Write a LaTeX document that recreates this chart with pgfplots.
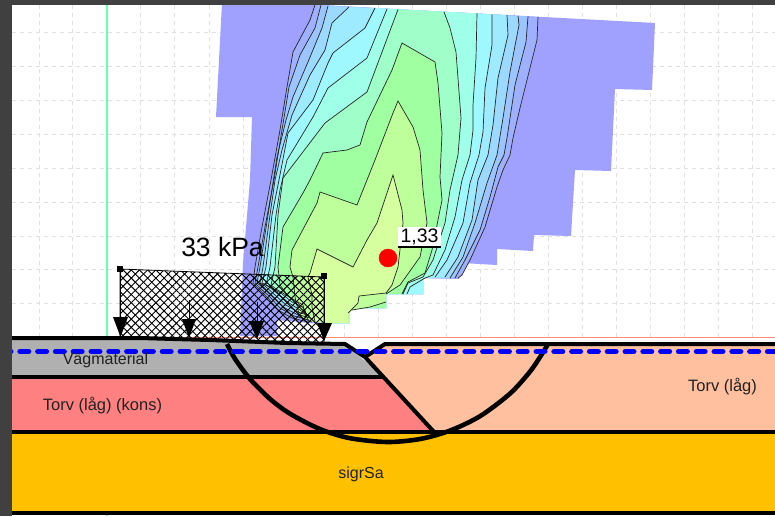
\documentclass[border=0pt]{standalone}
\usepackage{fontspec}
\setmainfont{Liberation Sans}
\usepackage{pgfplots}
\pgfplotsset{compat=1.18}
\usetikzlibrary{patterns.meta}
\definecolor{c0}{HTML}{A0A0FF}
\definecolor{c1}{HTML}{9EB0FF}
\definecolor{c2}{HTML}{9CC4FF}
\definecolor{c3}{HTML}{9CD8FF}
\definecolor{c4}{HTML}{9EEAFF}
\definecolor{c5}{HTML}{A0F8FF}
\definecolor{c6}{HTML}{A0FFE8}
\definecolor{c7}{HTML}{A0FFC8}
\definecolor{c8}{HTML}{A0FFA0}
\definecolor{c9}{HTML}{BEFF9C}
\definecolor{c10}{HTML}{D6FFA0}
\definecolor{griscol}{HTML}{E0E0E0}
\definecolor{barcol}{HTML}{404040}
\definecolor{layergray}{HTML}{B0B0B0}
\definecolor{layerpink}{HTML}{FF8080}
\definecolor{layersal}{HTML}{FFC0A0}
\definecolor{layeryel}{HTML}{FFC000}
\definecolor{redline}{HTML}{FF8878}
\definecolor{teal1}{HTML}{66FFB3}
\definecolor{txt}{HTML}{222222}
% contour polylines, left side (bottom to top) and right side (top to bottom)
\def\LLg{(308,322) (292,318) (278,310) (268,298) (257,287) (253,283) (255,267) (262,227) (271,180) (280,130) (287,87) (293,52) (310,20) (315,5)}
\def\RRg{(538,17) (537,40) (520,108) (513,138) (510,155) (503,170) (497,187) (485,227) (470,260) (462,275) (458,278)}
\def\LLf{(309,320) (294,316) (280,308) (270,297) (259,287) (255,283) (258,267) (265,227) (274,180) (282,130) (289,87) (300,55) (315,28) (321,5)}
\def\RRf{(528,16.5) (526,42) (515,85) (507,138) (504,155) (498,167) (490,197) (480,230) (465,260) (455,278)}
\def\LLe{(310,318) (296,314) (283,307) (272,296) (262,287) (257,283) (260,267) (268,215) (277,157) (286,120) (293,97) (308,62) (322,28) (328,6)}
\def\RRe{(518,16) (519,25) (510,72) (503,118) (497,155) (487,183) (475,223) (463,257) (450,278)}
\def\LLd{(310,316) (298,312) (286,305) (275,295) (265,286) (260,283) (263,267) (270,215) (275,180) (282,150) (292,115) (310,75) (325,50) (332,23) (349,7)}
\def\RRd{(507,15) (508,35) (498,78) (493,125) (488,155) (478,180) (472,220) (458,257) (445,277)}
\def\LLc{(307,315) (300,310) (289,303) (278,294) (268,286) (262,283) (266,267) (272,215) (279,180) (288,133) (313,100) (328,63) (333,53) (365,28) (375,8)}
\def\RRc{(492,14.5) (492,45) (485,88) (483,132) (479,155) (470,183) (463,223) (447,260) (435,277)}
\def\LLb{(306,317) (303,307) (292,302) (282,294) (272,288) (266,285) (270,267) (276,215) (280,190) (287,160) (313,117) (328,88) (367,58) (387,9)}
\def\RRb{(477,13.5) (476,58) (473,105) (473,130) (470,155) (462,180) (455,217) (445,250) (433,275) (425,278) (410,287) (407,294)}
\def\LLa{(306,318) (303,305) (296,301) (286,295) (276,289) (271,285) (275,267) (278,215) (283,178) (325,123) (367,92) (398,9.5)}
\def\RRa{(444,12) (450,28) (456,52) (461,118) (458,155) (450,190) (445,223) (433,260) (423,277) (408,283) (403,294)}
\def\DDd{(308,320) (305,310) (298,303) (288,296) (280,285) (278,267) (283,227) (303,193) (310,180) (323,153) (347,150) (360,145) (367,122) (392,70) (402,43) (435,62) (438,83) (442,133) (440,177) (442,200) (432,250) (425,273) (408,282) (402,294)}
\def\EEe{(312,322) (300,317) (298,310) (295,297) (293,277) (290,267) (292,250) (317,203) (320,192) (357,205) (375,160) (393,113) (398,101) (413,127) (420,150) (423,190) (427,223) (420,257) (400,285) (386,294)}
\def\FFf{(315,322) (312,307) (312,295) (308,277) (310,273) (317,249) (353,267) (367,240) (377,223) (393,175) (402,210) (403,223) (398,267) (392,285) (386,293) (359,296) (358,303) (348,313)}
\def\tailA{(423,278) (423,294) (386,294) (386,308) (349,308) (349,323) (333,323)}
\def\tailB{(386,294) (386,308) (349,308) (349,323) (333,323)}
\newcommand{\band}[2]{\edef\temp{\noexpand\addplot[fill=#1,draw=none] coordinates {#2} -- cycle;}\temp}
\newcommand{\contourline}[1]{\edef\temp{\noexpand\addplot[draw=black!85,line width=0.7pt] coordinates {#1};}\temp}
\newcommand{\arrowdown}[6]{%
 \addplot[fill=black,draw=none] coordinates {(#1,#2) (#3,#2) (#4,#5)} -- cycle;
 \addplot[black,line width=0.8pt] coordinates {(#4,#6) (#4,#2)};}
\begin{document}
\begin{tikzpicture}
\begin{axis}[name=ax,scale only axis,width=775pt,height=516pt,xmin=0,xmax=775,ymin=0,ymax=516,y dir=reverse,axis lines=none,clip=true]
% dashed grid
\pgfplotsforeachungrouped \x in {39,72.5,140.5,174.5,209,243,276,310,344,378,412,446,480,514,548,582,616,650.5,684,718,752}{
 \edef\temp{\noexpand\addplot[griscol,line width=1pt,dash pattern=on 4pt off 4pt] coordinates {(\x,5) (\x,338)};}\temp}
\pgfplotsforeachungrouped \y in {33,66.5,100.5,134,168,202,236,269,303}{
 \edef\temp{\noexpand\addplot[griscol,line width=1pt,dash pattern=on 4pt off 4pt] coordinates {(12,\y) (775,\y)};}\temp}
\addplot[teal1,line width=1.6pt] coordinates {(107,5) (107,516)};
\addplot[redline,line width=0.9pt] coordinates {(12,337) (775,337)};
% outer zone
\addplot[fill=c0,draw=none] coordinates {(222,3) (320,5) (655,23) (652,90) (615,89) (611,171) (575,170) (571,236) (534,235) (533,251) (497,249) (497,265) (462,263) (459,279) (423,278) (423,294) (386,294) (386,308) (349,308) (349,323) (333,323) (310,323) (277,320) (277,336) (240,336) (243,263) (250,180) (252,117) (216,117)} -- cycle;
% bands
\band{c1}{\LLg \RRg \tailA}
\band{c2}{\LLf \RRf \tailA}
\band{c3}{\LLe \RRe \tailA}
\band{c4}{\LLd \RRd \tailA}
\band{c5}{\LLc \RRc \tailA}
\band{c6}{\LLb \RRb \tailB}
\band{c7}{\LLa \RRa \tailB}
\band{c8}{\DDd \tailB}
\band{c9}{\EEe (386,302) (370,307) (352,310) (349,314) (349,323) (333,323)}
\band{c10}{\FFf (348,323)}
% contour lines (left and right arm separately: no line along the top edge)
\contourline{\LLg}\contourline{\RRg}
\contourline{\LLf}\contourline{\RRf}
\contourline{\LLe}\contourline{\RRe}
\contourline{\LLd}\contourline{\RRd}
\contourline{\LLc}\contourline{\RRc}
\contourline{\LLb}\contourline{\RRb}
\contourline{\LLa}\contourline{\RRa}
\contourline{\DDd}
\contourline{\EEe}
\contourline{\FFf}
\addplot[black!85,line width=0.7pt] coordinates {(386,302) (370,307) (352,310)};
% load block, cross hatched
\addplot[pattern={Lines[angle=45,distance=5.8pt,line width=0.95pt]},draw=none] coordinates {(120,269) (324,277) (324,342) (120,342)} -- cycle;
\addplot[pattern={Lines[angle=-45,distance=5.8pt,line width=0.95pt]},draw=none] coordinates {(120,269) (324,277) (324,342) (120,342)} -- cycle;
\addplot[black,line width=0.8pt] coordinates {(120,342) (120,269) (324,277) (324,342)};
% soil layers
\addplot[fill=layeryel,draw=none] coordinates {(12,432) (775,432) (775,513) (12,513)} -- cycle;
\addplot[fill=layerpink,draw=none] coordinates {(12,377) (384,377) (435,432) (12,432)} -- cycle;
\addplot[fill=layergray,draw=none] coordinates {(12,338) (73,338) (140,338) (173,339) (210,340) (287,343) (345,344) (384,377) (12,377)} -- cycle;
\addplot[fill=layersal,draw=none] coordinates {(365,357) (385,344) (775,344) (775,432) (435,432)} -- cycle;
\addplot[fill=white,draw=none] coordinates {(345,344) (385,344) (365,357)} -- cycle;
% layer boundaries
\addplot[black,line width=4pt] coordinates {(12,338) (73,338) (140,338) (173,339) (210,340) (287,343) (345,344) (365,357) (435,433)};
\addplot[black,line width=4pt] coordinates {(365,357) (385,344) (775,344)};
\addplot[black,line width=3.8pt] coordinates {(12,377) (384,377)};
\addplot[black,line width=3.8pt] coordinates {(12,432) (775,432)};
\addplot[black,line width=3.8pt] coordinates {(12,513) (775,513)};
% slip circle
\addplot[black,line width=4.6pt,smooth] coordinates {(227,344) (235,358.8) (250,379) (270,398.9) (290,413.7) (320,429.1) (350,438.2) (387,442) (420,439) (450,430.6) (480,416.2) (510,393.6) (530,371.6) (542,353.9) (548,344)};
% water level
\addplot[blue,line width=5.4pt,line cap=round,dash pattern=on 8.6pt off 9.2pt] coordinates {(2.2,351.5) (775,351.5)};
% load arrows
\arrowdown{113}{317}{128}{120.5}{337}{269}
\arrowdown{182}{319}{196}{189}{338}{300}
\arrowdown{249}{321}{264}{257}{339}{302}
\arrowdown{317}{323}{332}{324}{341}{277}
\addplot[only marks,mark=square*,mark size=2.6pt,black] coordinates {(120,269) (324,276)};
% factor of safety
\addplot[only marks,mark=*,mark size=9pt,red,mark options={draw=none,fill=red}] coordinates {(388,258)};
\addplot[fill=white,draw=none] coordinates {(398,227) (441,227) (441,247) (398,247)} -- cycle;
\addplot[black,line width=2pt] coordinates {(397.5,247) (440.5,247)};
% frame
\addplot[fill=barcol,draw=none] coordinates {(0,0) (12,0) (12,516) (0,516)} -- cycle;
\addplot[fill=barcol,draw=none] coordinates {(0,0) (775,0) (775,5) (0,5)} -- cycle;
% texts
\node[anchor=center,inner sep=0pt,text=black] at (axis cs:222.5,247) {\fontsize{26.5}{27}\selectfont 33 kPa};
\node[anchor=center,inner sep=0pt,text=black] at (axis cs:419.5,236.5) {\fontsize{19.5}{20}\selectfont 1,33};
\node[anchor=center,inner sep=0pt,text=txt] at (axis cs:105.5,360) {\fontsize{16}{16}\selectfont Vägmaterial};
\node[anchor=center,inner sep=0pt,text=txt] at (axis cs:102.5,406) {\fontsize{16.5}{17}\selectfont Torv (låg) (kons)};
\node[anchor=center,inner sep=0pt,text=txt] at (axis cs:722.5,387) {\fontsize{16.5}{17}\selectfont Torv (låg)};
\node[anchor=center,inner sep=0pt,text=txt] at (axis cs:361,474) {\fontsize{16}{16}\selectfont sigrSa};
\end{axis}
\pgfresetboundingbox
\path (ax.south west) rectangle (ax.north east);
\end{tikzpicture}
\end{document}
